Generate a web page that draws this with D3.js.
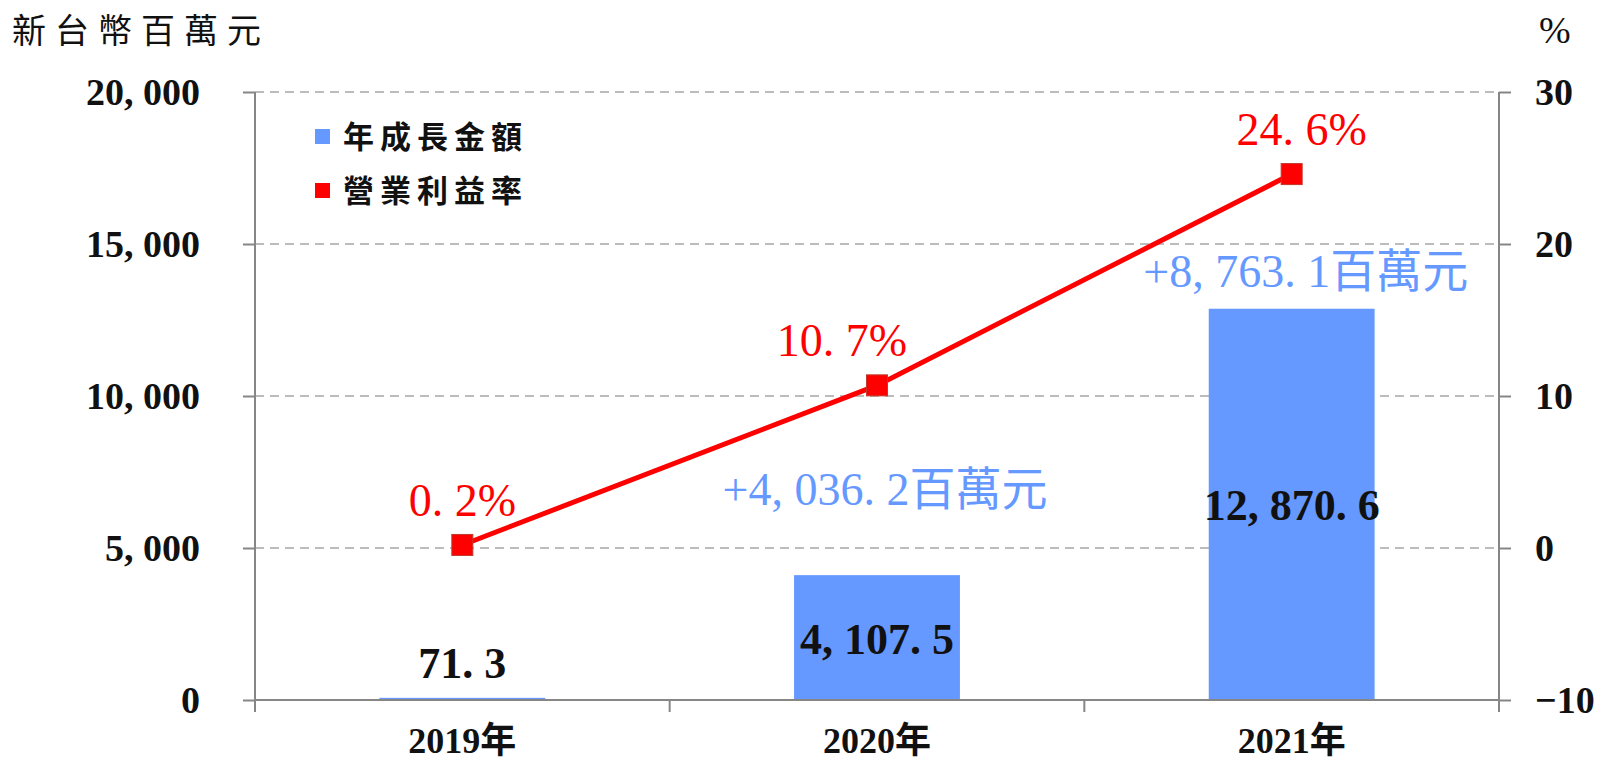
<!DOCTYPE html>
<html>
<head>
<meta charset="utf-8">
<script src="https://cdn.jsdelivr.net/npm/d3@7"></script>
<style>
  html, body { margin: 0; padding: 0; background: #fff; }
  svg { display: block; }
</style>
</head>
<body>
<div id="chart"></div>
<script>
// 資料
const years = ['2019年', '2020年', '2021年'];
const growthAmount = [71.3, 4107.5, 12870.6];      // 年成長金額 (新台幣百萬元)
const opMargin = [0.2, 10.7, 24.6];                 // 營業利益率 (%)
const increase = [null, 4036.2, 8763.1];            // 較前一年增加
const leftTicks = [0, 5000, 10000, 15000, 20000];
const rightTicks = [-10, 0, 10, 20, 30];
const legendItems = ['年成長金額', '營業利益率'];

const W = 1603, H = 763;
const margin = {top: 92, right: 104, bottom: 63, left: 255};
const gW = W - margin.left - margin.right;
const gH = H - margin.top - margin.bottom;

const barColor = '#6699ff';
const lineColor = '#ff0000';
const serif = "'Liberation Serif', 'Noto Sans CJK TC', serif";
const cjk = "'Noto Sans CJK TC', 'Liberation Serif', sans-serif";

const svg = d3.select('#chart').append('svg')
    .attr('width', W)
    .attr('height', H);

const g = svg.append('g').attr('transform', 'translate(' + margin.left + ',' + margin.top + ')');

// 比例尺
const x = d3.scaleBand()
    .domain(years)
    .range([0, gW])
    .paddingInner(0.6)
    .paddingOuter(0.3);
const step = x.step();
const cx = i => x(years[i]) + x.bandwidth() / 2;
const yL = d3.scaleLinear().domain([0, 20000]).range([gH, 0]);
const yR = d3.scaleLinear().domain([-10, 30]).range([gH, 0]);

// 格線
g.append('g').selectAll('line')
    .data(leftTicks.filter(d => d > 0))
    .enter()
    .append('line')
    .attr('x1', 0).attr('x2', gW)
    .attr('y1', d => yL(d)).attr('y2', d => yL(d))
    .attr('stroke', '#a6a6a6')
    .attr('stroke-width', 1.5)
    .attr('stroke-dasharray', '9,6');

// 長條
g.selectAll('rect.bar')
    .data(growthAmount)
    .enter()
    .append('rect')
    .attr('class', 'bar')
    .attr('x', (d, i) => x(years[i]))
    .attr('width', x.bandwidth())
    .attr('y', d => yL(d))
    .attr('height', d => gH - yL(d))
    .attr('fill', barColor);

// 軸
const axisColor = '#868686';
const lAxis = g.append('g')
    .call(d3.axisLeft(yL).tickValues(leftTicks).tickSize(12).tickFormat(''));
const rAxis = g.append('g')
    .attr('transform', 'translate(' + gW + ',0)')
    .call(d3.axisRight(yR).tickValues(rightTicks).tickSize(12).tickFormat(''));
[lAxis, rAxis].forEach(a => {
    a.select('.domain').remove();
    a.selectAll('line').attr('stroke', axisColor).attr('stroke-width', 2);
});
// 軸線
g.append('line').attr('x1', 0).attr('x2', 0).attr('y1', 0).attr('y2', gH + 12)
    .attr('stroke', axisColor).attr('stroke-width', 2);
g.append('line').attr('x1', gW).attr('x2', gW).attr('y1', 0).attr('y2', gH + 12)
    .attr('stroke', axisColor).attr('stroke-width', 2);
g.append('line').attr('x1', 0).attr('x2', gW).attr('y1', gH).attr('y2', gH)
    .attr('stroke', axisColor).attr('stroke-width', 2);
// 類別分隔刻度
g.append('g').selectAll('line')
    .data(years.slice(1))
    .enter()
    .append('line')
    .attr('x1', d => x(d) - (step - x.bandwidth()) / 2)
    .attr('x2', d => x(d) - (step - x.bandwidth()) / 2)
    .attr('y1', gH).attr('y2', gH + 12)
    .attr('stroke', axisColor).attr('stroke-width', 2);

// 刻度文字
g.append('g').selectAll('text')
    .data(leftTicks)
    .enter()
    .append('text')
    .attr('x', -55)
    .attr('y', d => yL(d))
    .attr('dy', '0.33em')
    .attr('text-anchor', 'end')
    .attr('font-family', serif)
    .attr('font-weight', 'bold')
    .attr('font-size', 38)
    .attr('fill', '#111')
    .text(d => d3.format(',')(d).replace(',', ', '));

g.append('g').selectAll('text')
    .data(rightTicks)
    .enter()
    .append('text')
    .attr('x', gW + 36)
    .attr('y', d => yR(d))
    .attr('dy', '0.33em')
    .attr('font-family', serif)
    .attr('font-weight', 'bold')
    .attr('font-size', 38)
    .attr('fill', '#111')
    .text(d => d < 0 ? '\u2212' + Math.abs(d) : d);

g.append('g').selectAll('text')
    .data(years)
    .enter()
    .append('text')
    .attr('x', d => x(d) + x.bandwidth() / 2)
    .attr('y', gH + 53)
    .attr('text-anchor', 'middle')
    .attr('font-family', serif)
    .attr('font-weight', 'bold')
    .attr('font-size', 36)
    .attr('fill', '#111')
    .text(d => d);

// 單位
svg.append('text')
    .attr('x', 12).attr('y', 43)
    .attr('font-family', cjk)
    .attr('font-size', 34)
    .attr('letter-spacing', 9)
    .attr('fill', '#111')
    .text('新台幣百萬元');
svg.append('text')
    .attr('x', 1539).attr('y', 43)
    .attr('font-family', serif)
    .attr('font-size', 38)
    .attr('fill', '#111')
    .text('%');

// 折線
const line = d3.line()
    .x((d, i) => cx(i))
    .y(d => yR(d));
g.append('path')
    .datum(opMargin)
    .attr('d', line)
    .attr('fill', 'none')
    .attr('stroke', lineColor)
    .attr('stroke-width', 5);

const mk = 21;
g.selectAll('rect.dot')
    .data(opMargin)
    .enter()
    .append('rect')
    .attr('class', 'dot')
    .attr('x', (d, i) => cx(i) - mk / 2)
    .attr('y', d => yR(d) - mk / 2)
    .attr('width', mk).attr('height', mk)
    .attr('fill', lineColor)
    .attr('stroke', '#c0392b')
    .attr('stroke-width', 1);

// 利益率標籤
const pctDx = [0, -35, 10];
g.selectAll('text.pct')
    .data(opMargin)
    .enter()
    .append('text')
    .attr('class', 'pct')
    .attr('x', (d, i) => cx(i) + pctDx[i])
    .attr('y', d => yR(d) - 29)
    .attr('text-anchor', 'middle')
    .attr('font-family', serif)
    .attr('font-size', 46)
    .attr('fill', lineColor)
    .text(d => d.toFixed(1).replace('.', '. ') + '%');

// 長條數值
g.selectAll('text.val')
    .data(growthAmount)
    .enter()
    .append('text')
    .attr('class', 'val')
    .attr('x', (d, i) => cx(i))
    .attr('y', d => gH - yL(d) < 60 ? yL(d) - 20 : (yL(d) + gH) / 2 + 16)
    .attr('text-anchor', 'middle')
    .attr('font-family', serif)
    .attr('font-weight', 'bold')
    .attr('font-size', 44)
    .attr('fill', '#111')
    .text(d => d3.format(',.1f')(d).replace(',', ', ').replace('.', '. '));

// 增加金額
const incPos = [null, {dx: 8, dy: 70}, {dx: 14, dy: 22}];
const incData = increase
    .map((v, i) => ({v: v, i: i}))
    .filter(d => d.v !== null);
g.selectAll('text.inc')
    .data(incData)
    .enter()
    .append('text')
    .attr('class', 'inc')
    .attr('x', d => cx(d.i) + incPos[d.i].dx)
    .attr('y', d => yL(growthAmount[d.i]) - incPos[d.i].dy)
    .attr('text-anchor', 'middle')
    .attr('font-family', serif)
    .attr('font-size', 46)
    .attr('fill', barColor)
    .text(d => '+' + d3.format(',.1f')(d.v).replace(',', ', ').replace('.', '. ') + '百萬元');

// 圖例
const legend = svg.append('g').attr('transform', 'translate(315,129)');
const lg = legend.selectAll('g')
    .data(legendItems)
    .enter()
    .append('g')
    .attr('transform', (d, i) => 'translate(0,' + i * 54 + ')');
lg.append('rect')
    .attr('width', 15).attr('height', 15)
    .attr('fill', (d, i) => i === 0 ? barColor : lineColor);
lg.append('text')
    .attr('x', 28).attr('y', 8)
    .attr('dy', '0.36em')
    .attr('font-family', cjk)
    .attr('font-weight', 'bold')
    .attr('font-size', 31)
    .attr('letter-spacing', 6)
    .attr('fill', '#111')
    .text(d => d);
</script>
</body>
</html>
